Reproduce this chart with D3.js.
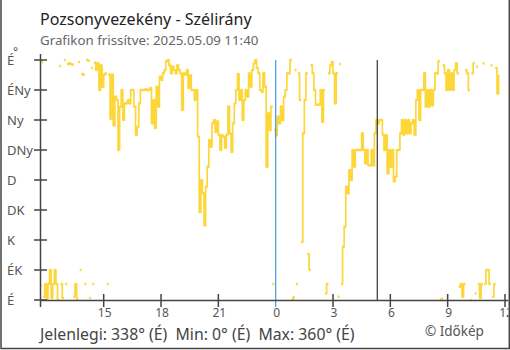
<!DOCTYPE html>
<html>
<head>
<meta charset="utf-8">
<script src="https://cdn.jsdelivr.net/npm/d3@7"></script>
<style>
  body { margin: 0; background: #fff; }
  svg { display: block; font-family: "Noto Sans", sans-serif; }
</style>
</head>
<body>
<svg id="chart" width="510" height="350"></svg>
<script>
const width = 510, height = 350;
const svg = d3.select("#chart");

// wind direction in degrees, one value every 5 minutes from 2025.05.08 11:40
const windDir = [
  22, 357, 5, 24, 2, 24, 45, 3, 24, 45, 24, 0,
  351, 24, 3, 360, 24, 354, 355, 354, 353, 5, 24, 2,
  357, 45, 339, 338, 24, 360, 359, 3, 348, 24, 356, 345,
  355, 315, 352, 320, 338, 340, 24, 338, 272, 338, 262, 305,
  300, 225, 290, 315, 270, 295, 295, 300, 295, 315, 315, 290,
  248, 260, 295, 315, 315, 315, 316, 315, 315, 318, 265, 300,
  258, 320, 290, 335, 330, 340, 345, 358, 360, 352, 340, 350,
  345, 340, 352, 345, 340, 285, 340, 338, 345, 318, 337, 315,
  315, 300, 315, 245, 132, 180, 160, 112, 170, 200, 240, 230,
  265, 270, 252, 268, 248, 225, 247, 245, 228, 248, 290, 250,
  222, 265, 295, 315, 339, 300, 315, 270, 300, 315, 305, 340,
  320, 345, 355, 360, 348, 340, 315, 312, 340, 320, 200, 280,
  255, 290, 24, 255, 247, 275, 265, 290, 270, 305, 315, 340,
  340, 360, 0, 4, 345, 24, 340, 300, 87, 250, 300, 340,
  69, 45, 352, 340, 315, 293, 293, 293, 315, 267, 315, 10,
  24, 340, 352, 357, 340, 295, 340, 5, 354, 24, 80, 110,
  170, 160, 195, 180, 225, 200, 225, 225, 225, 225, 250, 225,
  205, 225, 202, 202, 225, 202, 250, 270, 265, 270, 270, 248,
  225, 247, 190, 225, 200, 225, 178, 185, 225, 225, 250, 270,
  248, 270, 250, 270, 250, 265, 270, 248, 300, 315, 270, 315,
  315, 340, 290, 315, 290, 315, 292, 315, 340, 340, 358, 0,
  2, 352, 340, 315, 345, 315, 340, 315, 345, 355, 340, 20,
  24, 5, 24, 345, 340, 315, 0, 340, 355, 10, 350, 24,
  3, 24, 355, 24, 45, 45, 24, 352, 5, 24, 348, 310,
  338
];

const dirTicks = [0, 45, 90, 135, 180, 225, 270, 315, 360];
const dirLabels = ["É", "ÉK", "K", "DK", "D", "DNy", "Ny", "ÉNy", "É"];
const hourTicks = [15, 18, 21, 0, 3, 6, 9, 12];

const startTime = new Date(2025, 4, 8, 11, 40);
const endTime = new Date(2025, 4, 9, 12, 0);
const sunrise = new Date(2025, 4, 9, 5, 19);
const midnight = new Date(2025, 4, 9, 0, 0);
const stepMs = 5 * 60 * 1000;
const timeAt = i => new Date(startTime.getTime() + i * stepMs);

const x = d3.scaleTime().domain([startTime, endTime]).range([40, 505]);
const y = d3.scaleLinear().domain([0, 360]).range([300, 60]);

const tickTimes = hourTicks.map(h => new Date(2025, 4, h > 12 ? 8 : 9, h, 0));

svg.append("defs").append("clipPath").attr("id", "inside")
  .append("rect").attr("x", 0).attr("y", 0).attr("width", 508.5).attr("height", 350);

// frame
svg.append("path")
  .attr("d", "M1,0V348.5H509.3V0")
  .attr("fill", "none")
  .attr("stroke", "#444")
  .attr("stroke-width", 1.5);

// titles
svg.append("text").attr("x", 40).attr("y", 25)
  .attr("font-size", 16).attr("fill", "#222")
  .text("Pozsonyvezekény - Szélirány");
svg.append("text").attr("x", 40).attr("y", 45)
  .attr("font-size", 13.3).attr("fill", "#666")
  .text("Grafikon frissítve: 2025.05.09 11:40");

// wind line, broken where it wraps around north
const segments = [];
let cur = [];
windDir.forEach((v, i) => {
  if (i > 0 && Math.abs(v - windDir[i - 1]) > 180) {
    cur.push({ t: timeAt(i), v: windDir[i - 1] });
    segments.push(cur);
    cur = [];
  }
  cur.push({ t: timeAt(i), v });
});
segments.push(cur);

const line = d3.line()
  .x(d => x(d.t))
  .y(d => y(d.v))
  .curve(d3.curveStepAfter);

const wind = svg.append("g");
wind.selectAll("path")
  .data(segments)
  .join("path")
  .attr("d", line)
  .attr("fill", "none")
  .attr("stroke", "#fdd63a")
  .attr("stroke-width", 1.7);

// each reading as a thicker level
wind.selectAll("line")
  .data(windDir.slice(0, -1))
  .join("line")
  .attr("x1", (d, i) => x(timeAt(i)))
  .attr("x2", (d, i) => x(timeAt(i + 1)))
  .attr("y1", d => y(d))
  .attr("y2", d => y(d))
  .attr("stroke", "#fdd63a")
  .attr("stroke-width", 2.5);

// midnight and sunrise markers
svg.append("line")
  .attr("x1", x(midnight)).attr("x2", x(midnight))
  .attr("y1", 60).attr("y2", 307)
  .attr("stroke", "#3a9be0").attr("stroke-width", 1.2);
svg.append("line")
  .attr("x1", x(sunrise)).attr("x2", x(sunrise))
  .attr("y1", 60).attr("y2", 300)
  .attr("stroke", "#333").attr("stroke-width", 1.2);

// y axis
const yAxis = svg.append("g");
yAxis.append("line")
  .attr("x1", 40.5).attr("x2", 40.5).attr("y1", 54).attr("y2", 307)
  .attr("stroke", "#444").attr("stroke-width", 1.5);
yAxis.selectAll(".ytick")
  .data(dirTicks)
  .join("line")
  .attr("x1", 34).attr("x2", 47)
  .attr("y1", d => y(d)).attr("y2", d => y(d))
  .attr("stroke", "#444").attr("stroke-width", 1.5);
yAxis.selectAll(".ylabel")
  .data(dirTicks)
  .join("text")
  .attr("x", 7)
  .attr("y", d => y(d) + 5)
  .attr("font-size", 13)
  .attr("fill", "#555")
  .text((d, i) => dirLabels[i]);
yAxis.append("text").attr("x", 13).attr("y", 56)
  .attr("font-size", 12).attr("fill", "#555").text("°");

// x axis
const xAxis = svg.append("g").attr("clip-path", "url(#inside)");
xAxis.append("line")
  .attr("x1", 40).attr("x2", 509).attr("y1", 300.5).attr("y2", 300.5)
  .attr("stroke", "#444").attr("stroke-width", 1.5);
xAxis.selectAll(".xtick")
  .data(tickTimes)
  .join("line")
  .attr("x1", d => x(d)).attr("x2", d => x(d))
  .attr("y1", 294).attr("y2", 307)
  .attr("stroke", (d, i) => hourTicks[i] === 0 ? "none" : "#444")
  .attr("stroke-width", 1.5);
xAxis.selectAll(".xlabel")
  .data(tickTimes)
  .join("text")
  .attr("x", d => x(d) + 1)
  .attr("y", 317)
  .attr("text-anchor", "middle")
  .attr("font-size", 12)
  .attr("fill", "#555")
  .text((d, i) => hourTicks[i]);

// footer
svg.append("text").attr("x", 40).attr("y", 340)
  .attr("font-size", 15.8).attr("fill", "#444")
  .attr("xml:space", "preserve")
  .style("white-space", "pre")
  .text("Jelenlegi: 338° (É)  Min: 0° (É)  Max: 360° (É)");
svg.append("text").attr("x", 425).attr("y", 336)
  .attr("font-size", 13.5).attr("fill", "#555")
  .text("© Időkép");
</script>
</body>
</html>
